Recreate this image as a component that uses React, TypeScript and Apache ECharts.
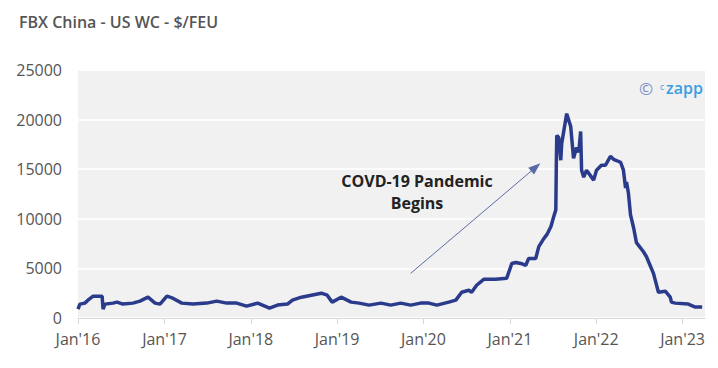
import React, { useEffect, useRef } from "react";
import * as echarts from "echarts";

const dates: string[] = [
  "2016-01-01", "2016-01-09", "2016-01-30", "2016-02-12", "2016-03-05", "2016-04-12", "2016-04-16", "2016-04-24",
  "2016-05-28", "2016-06-14", "2016-07-09", "2016-08-20", "2016-09-19", "2016-10-23", "2016-11-22", "2016-12-13",
  "2017-01-11", "2017-02-05", "2017-03-15", "2017-05-01", "2017-06-29", "2017-08-10", "2017-09-21", "2017-11-02",
  "2017-12-14", "2018-01-30", "2018-03-21", "2018-04-24", "2018-06-05", "2018-06-26", "2018-08-03", "2018-09-14",
  "2018-10-26", "2018-11-20", "2018-12-11", "2019-01-18", "2019-03-01", "2019-04-04", "2019-05-16", "2019-07-05",
  "2019-08-16", "2019-09-27", "2019-11-08", "2019-12-20", "2020-01-24", "2020-02-27", "2020-04-17", "2020-05-17",
  "2020-06-11", "2020-07-11", "2020-07-23", "2020-08-13", "2020-09-12", "2020-11-01", "2020-12-18", "2021-01-09",
  "2021-01-26", "2021-02-16", "2021-03-09", "2021-03-21", "2021-04-20", "2021-05-03", "2021-05-24", "2021-06-06",
  "2021-06-23", "2021-07-05", "2021-07-14", "2021-07-16", "2021-07-18", "2021-07-26", "2021-08-04", "2021-08-08", "2021-08-29",
  "2021-09-15", "2021-09-27", "2021-10-10", "2021-10-19", "2021-10-27", "2021-10-31", "2021-11-09", "2021-11-21",
  "2021-12-21", "2022-01-02", "2022-01-23", "2022-02-09", "2022-03-02", "2022-03-15", "2022-04-14", "2022-04-26",
  "2022-05-05", "2022-05-09", "2022-05-17", "2022-05-26", "2022-06-08", "2022-06-20", "2022-07-19", "2022-08-01",
  "2022-08-31", "2022-09-21", "2022-10-20", "2022-11-10", "2022-11-15", "2022-12-01", "2023-01-25", "2023-02-24",
  "2023-03-25",
];

const values: number[] = [
  900, 1400, 1500, 1800, 2200, 2200, 900, 1400,
  1500, 1600, 1400, 1500, 1700, 2100, 1500, 1400,
  2200, 2000, 1500, 1400, 1500, 1700, 1500, 1500,
  1200, 1500, 1000, 1300, 1400, 1800, 2100, 2300,
  2500, 2300, 1600, 2100, 1600, 1500, 1300, 1500,
  1300, 1500, 1300, 1500, 1500, 1300, 1600, 1800,
  2600, 2800, 2600, 3300, 3900, 3900, 4000, 5500,
  5600, 5500, 5300, 6000, 6000, 7200, 8000, 8400,
  9200, 10200, 10900, 15200, 18400, 18200, 15900, 17600, 20600,
  19300, 16100, 17200, 16700, 18800, 14900, 14200, 14900,
  13900, 14900, 15400, 15400, 16300, 16000, 15700, 14900,
  13100, 13700, 12600, 10400, 9100, 7600, 6700, 6200,
  4500, 2600, 2700, 2100, 1600, 1500, 1400, 1100,
  1100,
];

const yTicks = { min: 0, max: 25000, interval: 5000 };
const xRange = { min: "2016-01-01", max: "2023-04-06" };
const arrowFrom: [string, number] = ["2019-11-08", 4500];
const arrowTo: [string, number] = ["2021-04-20", 15200];
const titleText = "FBX China - US WC - $/FEU";
const annotationText = "COVD-19 Pandemic\nBegins";

export default function App() {
  const ref = useRef<HTMLDivElement>(null);
  useEffect(() => {
    document.body.style.margin = "0";
    if (!ref.current) return;
    const chart = echarts.init(ref.current, undefined, { renderer: "svg" });
    const font = "'Open Sans', sans-serif";
    const day = 24 * 3600 * 1000;
    chart.setOption({
      animation: false,
      textStyle: { fontFamily: font },
      title: {
        text: titleText,
        left: 14,
        top: 9,
        textStyle: { fontSize: 16, fontWeight: 600, color: "#555", fontFamily: font },
      },
      grid: {
        left: 78,
        right: 13,
        top: 70,
        bottom: 50,
        show: true,
        backgroundColor: "#f1f1f1",
        borderWidth: 0,
      },
      xAxis: {
        type: "time",
        min: xRange.min,
        max: xRange.max,
        minInterval: 365 * day,
        maxInterval: 366 * day,
        axisLine: { show: true, lineStyle: { color: "#d8d8d8", width: 1 } },
        axisTick: { show: true, length: 6, lineStyle: { color: "#d8d8d8" } },
        splitLine: { show: false },
        axisLabel: {
          color: "#555",
          fontSize: 16,
          margin: 13,
          fontFamily: font,
          hideOverlap: false,
          formatter: (val: number) => {
            const d = new Date(val);
            return "Jan'" + String(d.getFullYear()).slice(2);
          },
        },
      },
      yAxis: {
        type: "value",
        min: yTicks.min,
        max: yTicks.max,
        interval: yTicks.interval,
        axisLine: { show: false },
        axisTick: { show: false },
        splitLine: { show: true, lineStyle: { color: "#ffffff", width: 1.5 } },
        axisLabel: {
          color: "#555",
          fontSize: 16,
          margin: 16,
          fontFamily: font,
          formatter: (v: number) => String(v),
        },
      },
      series: [
        {
          type: "line",
          data: dates.map((d, i) => [d, values[i]]),
          showSymbol: false,
          lineStyle: { color: "#2a3b8c", width: 3.5 },
          itemStyle: { color: "#2a3b8c" },
          markLine: {
            silent: true,
            symbol: ["none", "triangle"],
            symbolSize: [9, 12],
            label: { show: false },
            lineStyle: { color: "#5b6aa6", width: 1, type: "solid" },
            itemStyle: { color: "#3d4d95" },
            data: [[{ coord: arrowFrom }, { coord: arrowTo }]],
          },
        },
      ],
      graphic: [
        {
          type: "text",
          x: 417,
          y: 170,
          style: {
            text: annotationText,
            align: "center",
            verticalAlign: "top",
            fill: "#222",
            font: "bold 16px 'Open Sans', sans-serif",
            lineHeight: 22,
          },
        },
        {
          type: "text",
          x: 639,
          y: 80,
          style: {
            text: "©",
            fill: "#7d8cc4",
            font: "17px 'Open Sans', sans-serif",
          },
        },
        {
          type: "text",
          x: 660,
          y: 82,
          style: {
            text: "c",
            fill: "#4aa6e6",
            font: "9px 'Open Sans', sans-serif",
          },
        },
        {
          type: "text",
          x: 666,
          y: 80,
          style: {
            text: "zapp",
            fill: "#3a9fe2",
            font: "600 16px 'Open Sans', sans-serif",
          },
        },
      ],
    });
    return () => chart.dispose();
  }, []);
  return <div ref={ref} style={{ width: 718, height: 368 }} />;
}
